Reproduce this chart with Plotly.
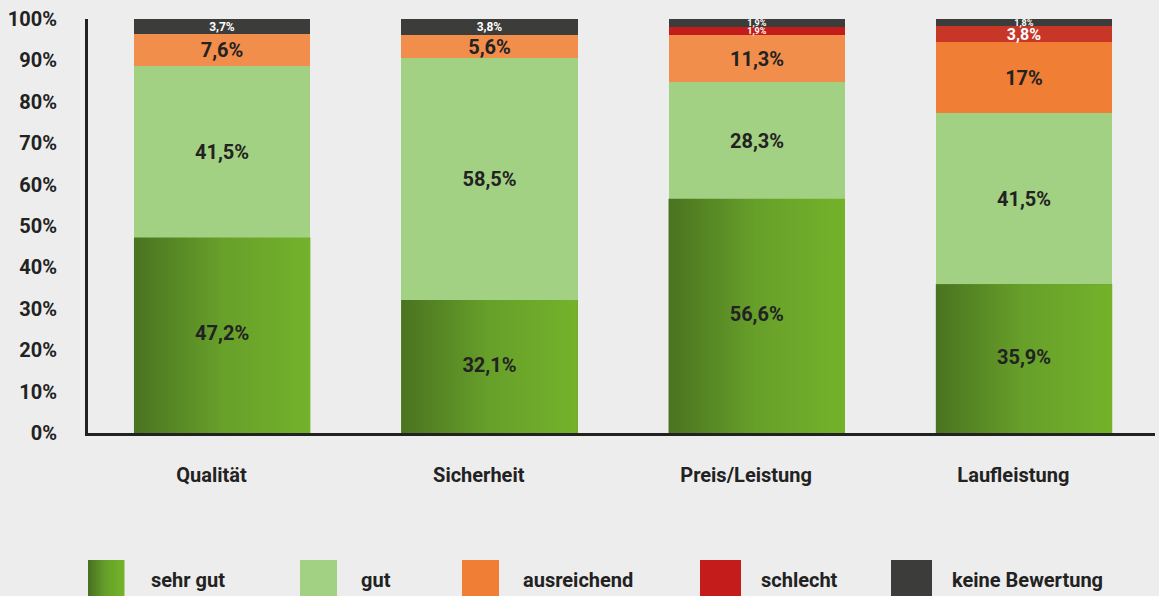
import plotly.graph_objects as go

# ---------------- data ----------------
categories = ["Qualität", "Sicherheit", "Preis/Leistung", "Laufleistung"]
sehr_gut = [47.2, 32.1, 56.6, 35.9]
gut = [41.5, 58.5, 28.3, 41.5]
ausreichend = [7.6, 5.6, 11.3, 17.0]
schlecht = [0.0, 0.0, 1.9, 3.8]
keine = [3.7, 3.8, 1.9, 1.8]
y_ticks = [0, 10, 20, 30, 40, 50, 60, 70, 80, 90, 100]
y_tick_labels = [f"{v}%" for v in y_ticks]
legend_names = ["sehr gut", "gut", "ausreichend", "schlecht", "keine Bewertung"]

# ---------------- style ----------------
FONT = "Roboto"
DARK = "#222222"
BG = "#ededed"
BW = 0.66
LABEL_SHIFT = -0.04
GRAD = [[0, "#4a7320"], [0.5, "#67a02a"], [1, "#74b22a"]]
C_GUT = "#a3d183"
C_AUS = ["#f28e4b", "#f28e4b", "#f28e4b", "#f07e34"]
C_SCH = ["#c41b1b", "#c41b1b", "#c41b1b", "#c83628"]
C_KEI = "#3c3c3a"

W, H = 1159, 596
L, R, T, B = 88, 4, 19, 163


def fmt(v):
    if v == 0:
        return ""
    if abs(v - round(v)) < 1e-9:
        return f"{int(round(v))}%"
    return f"{v:.1f}".replace(".", ",") + "%"


xs = list(range(len(categories)))
big = dict(family=FONT, size=20, color=DARK, weight="bold")

fig = go.Figure()

# base bar (covered by gradient polygon)
fig.add_trace(go.Bar(x=xs, y=sehr_gut, width=BW, marker=dict(color="#67a02a", line_width=0),
                     name="sehr gut", showlegend=False, hoverinfo="skip"))
fig.add_trace(go.Bar(x=xs, y=gut, width=BW, marker=dict(color=C_GUT, line_width=0), name="gut",
                     text=[fmt(v) for v in gut], textposition="inside", insidetextanchor="middle",
                     textangle=0, constraintext="none", textfont=big, showlegend=False))
fig.add_trace(go.Bar(x=xs, y=ausreichend, width=BW, marker=dict(color=C_AUS, line_width=0),
                     name="ausreichend", text=[fmt(v) for v in ausreichend], textposition="inside",
                     insidetextanchor="middle", textangle=0, constraintext="none", textfont=big,
                     showlegend=False))
fig.add_trace(go.Bar(x=xs, y=schlecht, width=BW, marker=dict(color=C_SCH, line_width=0),
                     name="schlecht", text=[fmt(v) for v in schlecht], textposition="inside",
                     insidetextanchor="middle", textangle=0, constraintext="none",
                     textfont=dict(family=FONT, size=[9, 9, 9, 16], color="white", weight="bold"),
                     showlegend=False))
fig.add_trace(go.Bar(x=xs, y=keine, width=BW, marker=dict(color=C_KEI, line_width=0),
                     name="keine Bewertung", text=[fmt(v) for v in keine], textposition="inside",
                     insidetextanchor="middle", textangle=0, constraintext="none",
                     textfont=dict(family=FONT, size=[12, 12, 9, 9], color="white", weight="bold"),
                     showlegend=False))

# gradient overlay for "sehr gut", computed from the data
for i, v in zip(xs, sehr_gut):
    fig.add_trace(go.Scatter(
        x=[i - BW / 2, i + BW / 2, i + BW / 2, i - BW / 2, i - BW / 2],
        y=[0, 0, v, v, 0], mode="lines", fill="toself",
        line=dict(width=0, color="rgba(0,0,0,0)"),
        fillgradient=dict(type="horizontal", colorscale=GRAD),
        hoverinfo="skip", showlegend=False))

fig.add_trace(go.Scatter(x=xs, y=[v / 2 for v in sehr_gut], mode="text",
                         text=[fmt(v) for v in sehr_gut], textfont=big,
                         hoverinfo="skip", showlegend=False))

# ---------------- custom legend ----------------
pw, ph = W - L - R, H - T - B


def px(x):
    return (x - L) / pw


def py(y):
    return (H - B - y) / ph


def mix(c1, c2, t):
    a = [int(c1[k:k + 2], 16) for k in (1, 3, 5)]
    b = [int(c2[k:k + 2], 16) for k in (1, 3, 5)]
    return "#" + "".join(f"{int(round(a[j] + (b[j] - a[j]) * t)):02x}" for j in range(3))


shapes = []
annotations = []
sq = [(88, 124), (300, 337), (462, 499), (700, 741), (891, 932)]
lab_x = [149, 359, 521, 759, 950]
sq_cols = [None, C_GUT, "#f07e34", "#c41b1b", C_KEI]
for k, name in enumerate(legend_names):
    x0, x1 = sq[k]
    if k == 0:
        n = 18
        for s in range(n):
            t = s / (n - 1)
            c = mix("#4a7320", "#67a02a", t / 0.5) if t < 0.5 else mix("#67a02a", "#74b22a", (t - 0.5) / 0.5)
            sx0 = x0 + (x1 - x0) * s / n
            sx1 = x0 + (x1 - x0) * (s + 1) / n + 0.5
            shapes.append(dict(type="rect", xref="paper", yref="paper", x0=px(sx0), x1=px(sx1),
                               y0=py(600), y1=py(560), fillcolor=c, line_width=0))
    else:
        shapes.append(dict(type="rect", xref="paper", yref="paper", x0=px(x0), x1=px(x1),
                           y0=py(600), y1=py(560), fillcolor=sq_cols[k], line_width=0))
    annotations.append(dict(text=name, xref="paper", yref="paper", x=px(lab_x[k]), y=py(580),
                            xanchor="left", yanchor="middle", showarrow=False,
                            font=dict(family=FONT, size=20, color=DARK, weight="bold")))

fig.update_layout(
    width=W, height=H, barmode="stack", bargap=0,
    paper_bgcolor=BG, plot_bgcolor=BG,
    margin=dict(l=L, r=R, t=T, b=B, pad=0),
    showlegend=False, shapes=shapes, annotations=annotations,
    font=dict(family=FONT, color=DARK),
    xaxis=dict(range=[-0.502, 3.49], tickvals=[i + LABEL_SHIFT for i in xs], ticktext=categories,
               showgrid=False, zeroline=False, showline=True, linecolor=DARK, linewidth=3,
               ticks="", ticklabelstandoff=22,
               tickfont=dict(family=FONT, size=20, color=DARK, weight="bold")),
    yaxis=dict(range=[0, 100], tickvals=y_ticks, ticktext=y_tick_labels, showgrid=False,
               zeroline=False, showline=True, linecolor=DARK, linewidth=3, ticks="",
               ticklabelstandoff=24,
               tickfont=dict(family=FONT, size=20, color=DARK, weight="bold")),
)

fig.write_html("out.html", config={"displayModeBar": False},
               post_script="document.body.style.margin='0';document.body.style.background='#ededed';")
